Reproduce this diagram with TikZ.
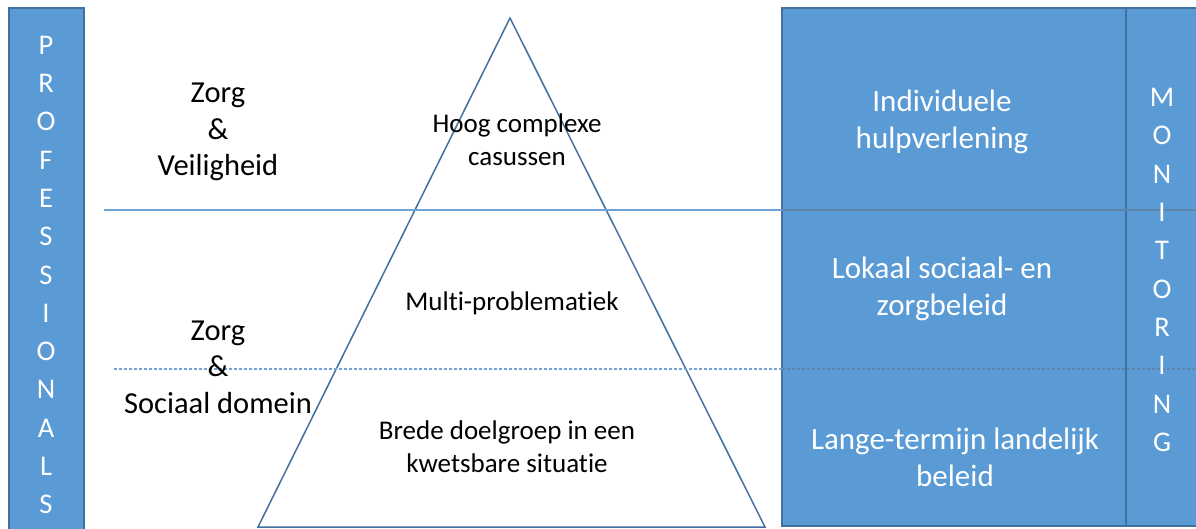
\documentclass[tikz,border=0pt]{standalone}
\usepackage{fontspec}
\setmainfont{Carlito}[Ligatures=NoCommon]
\definecolor{boxblue}{HTML}{5B9BD5}
\definecolor{edgeblue}{HTML}{41719C}
\definecolor{lineblue}{HTML}{6FA3D8}
\begin{document}
\begin{tikzpicture}[x=1pt,y=-1pt,
  bar/.style={fill=boxblue,draw=edgeblue,line width=1.5pt},
  sidelbl/.style={align=center,font=\fontsize{30.5}{36.5}\selectfont,text=black},
  tritxt/.style={align=center,font=\fontsize{27}{33}\selectfont,text=black},
  boxtxt/.style={align=center,font=\fontsize{31}{37}\selectfont,text=white},
  stack/.style={align=center,font=\fontsize{28.5}{38.3}\selectfont,text=white},
  tri/.style={draw=edgeblue,line width=1.5pt}]
\useasboundingbox (0,0) rectangle (1196,529);
\clip (0,0) rectangle (1196,529);
\fill[white] (0,0) rectangle (1196,529);
% left bar
\draw[bar] (9,8) rectangle (84,540);
\node[stack] (prof) at (46,275) {P\\R\\O\\F\\E\\S\\S\\I\\O\\N\\A\\L\\S};
% right box
\draw[bar] (782,8) rectangle (1205,526);
\draw[edgeblue,line width=1.2pt] (1126,8) -- (1126,526);
% triangle
\coordinate (apex) at (510,18);
\coordinate (bl) at (258,527);
\coordinate (br) at (765,527);
\draw[tri] (apex) -- (bl) -- (br) -- cycle;
% separators
\coordinate (s1) at (104,210);
\coordinate (s1e) at (1200,210);
\coordinate (s2) at (114,369);
\coordinate (s2e) at (1200,369);
\draw[lineblue,line width=1.1pt] (s1) -- (782,210);
\draw[edgeblue!85,line width=1.1pt] (782,210) -- (s1e);
\draw[lineblue,line width=1.1pt,dash pattern=on 3pt off 2pt] (s2) -- (782,369);
\draw[edgeblue!85,line width=1.1pt,dash pattern=on 3pt off 2pt] (782,369) -- (s2e);
\node[stack] (mon) at (1162,270) {M\\O\\N\\I\\T\\O\\R\\I\\N\\G};
% labels
\node[sidelbl] (zv) at (218,132) {Zorg\\\&\\Veiligheid};
\node[sidelbl] (zs) at (218,367) {Zorg\\\&\\Sociaal domein};
\node[tritxt] (hc) at (517,140) {Hoog complexe\\casussen};
\node[tritxt] (mp) at (512,303) {Multi-problematiek};
\node[tritxt] (bd) at (507,447) {Brede doelgroep in een\\kwetsbare situatie};
\node[boxtxt] (ih) at (942,122) {Individuele\\hulpverlening};
\node[boxtxt] (lz) at (942,289) {Lokaal sociaal- en\\zorgbeleid};
\node[boxtxt] (lt) at (955,457) {Lange-termijn landelijk\\beleid};
\end{tikzpicture}
\end{document}
